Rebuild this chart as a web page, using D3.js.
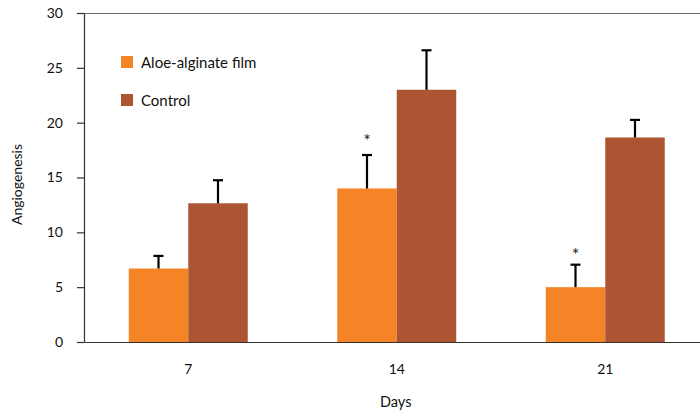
<!DOCTYPE html>
<html>
<head>
<meta charset="utf-8">
<script src="https://cdn.jsdelivr.net/npm/d3@7"></script>
<style>
  html, body { margin: 0; padding: 0; background: #fff; }
  svg { display: block; font-family: Lato, "Open Sans", sans-serif; }
</style>
</head>
<body>
<svg id="chart" width="700" height="414"></svg>
<script>
// Angiogenesis by day, aloe-alginate film vs. control
const days = ["7", "14", "21"];
const seriesNames = ["Aloe-alginate film", "Control"];
const aloeValues = [6.7, 14.0, 5.0];
const aloeErrors = [1.15, 3.05, 2.05];
const controlValues = [12.65, 23.0, 18.65];
const controlErrors = [2.1, 3.6, 1.6];
const aloeStars = ["", "*", "*"];
const starValues = [0, 18.8, 8.4];
const yTicks = [0, 5, 10, 15, 20, 25, 30];
const colors = ["#F58426", "#AD5532"];

const svg = d3.select("#chart");
const plotLeft = 84, plotRight = 709.5, plotTop = 13, plotBottom = 342;

const x = d3.scaleBand().domain(days).range([plotLeft, plotRight]).padding(0);
const groupWidth = 119;
const x1 = d3.scaleBand().domain(seriesNames)
  .range([x.bandwidth() / 2 - groupWidth / 2, x.bandwidth() / 2 + groupWidth / 2]);
const y = d3.scaleLinear().domain([0, 30]).range([plotBottom, plotTop]);

const series = [
  { name: seriesNames[0], values: aloeValues, errors: aloeErrors, color: colors[0] },
  { name: seriesNames[1], values: controlValues, errors: controlErrors, color: colors[1] }
];

// top frame line
svg.append("line")
  .attr("x1", plotLeft).attr("x2", 700)
  .attr("y1", plotTop + 0.5).attr("y2", plotTop + 0.5)
  .attr("stroke", "#6b6b6b").attr("stroke-width", 1.2);

// bars
series.forEach(s => {
  svg.append("g").selectAll("rect")
    .data(days)
    .join("rect")
    .attr("x", (d) => x(d) + x1(s.name))
    .attr("width", x1.bandwidth())
    .attr("y", (d, i) => y(s.values[i]))
    .attr("height", (d, i) => y(0) - y(s.values[i]))
    .attr("fill", s.color);
});

// error bars (upper only)
series.forEach(s => {
  const g = svg.append("g").attr("stroke", "#000").attr("stroke-width", 2.2);
  days.forEach((d, i) => {
    const cx = x(d) + x1(s.name) + x1.bandwidth() / 2;
    const y0 = y(s.values[i]);
    const y1 = y(s.values[i] + s.errors[i]);
    g.append("line").attr("x1", cx).attr("x2", cx).attr("y1", y0).attr("y2", y1);
    g.append("line").attr("x1", cx - 5).attr("x2", cx + 5).attr("y1", y1).attr("y2", y1);
  });
});

// significance markers
svg.append("g").selectAll("text")
  .data(days)
  .join("text")
  .attr("x", (d) => x(d) + x1(seriesNames[0]) + x1.bandwidth() / 2)
  .attr("y", (d, i) => y(starValues[i]) + 11)
  .attr("text-anchor", "middle")
  .attr("font-size", 18)
  .attr("fill", "#222")
  .text((d, i) => aloeStars[i]);

// y axis
const yAxis = svg.append("g")
  .attr("transform", `translate(${plotLeft},0)`)
  .call(d3.axisLeft(y).tickValues(yTicks).tickSize(7).tickPadding(14).tickSizeOuter(0));
yAxis.select(".domain").attr("stroke", "#333").attr("stroke-width", 1.2);
yAxis.selectAll(".tick line").attr("stroke", "#333").attr("stroke-width", 1.2);
yAxis.selectAll(".tick text").attr("font-size", 14).attr("fill", "#111")
  .attr("font-family", "Lato, sans-serif");

// x axis
const xAxis = svg.append("g")
  .attr("transform", `translate(0,${plotBottom})`)
  .call(d3.axisBottom(x).tickSize(0).tickPadding(22).tickSizeOuter(0));
xAxis.select(".domain").attr("stroke", "#333").attr("stroke-width", 1.2);
xAxis.selectAll(".tick text").attr("font-size", 14).attr("fill", "#111")
  .attr("font-family", "Lato, sans-serif");

// axis titles
svg.append("text")
  .attr("x", (plotLeft + plotRight) / 2 - 1).attr("y", 407)
  .attr("text-anchor", "middle").attr("font-size", 14.5).attr("fill", "#111")
  .text("Days");
svg.append("text")
  .attr("transform", `translate(22,${(plotTop + plotBottom) / 2 + 7}) rotate(-90)`)
  .attr("text-anchor", "middle").attr("font-size", 14).attr("fill", "#111")
  .text("Angiogenesis");

// legend
const legend = svg.append("g").attr("transform", "translate(121,56)");
series.forEach((s, i) => {
  const row = legend.append("g").attr("transform", `translate(0,${i * 38})`);
  row.append("rect").attr("width", 12).attr("height", 12).attr("fill", s.color);
  row.append("text").attr("x", 20).attr("y", 11.5)
    .attr("font-size", 15).attr("fill", "#111").text(s.name);
});
</script>
</body>
</html>
